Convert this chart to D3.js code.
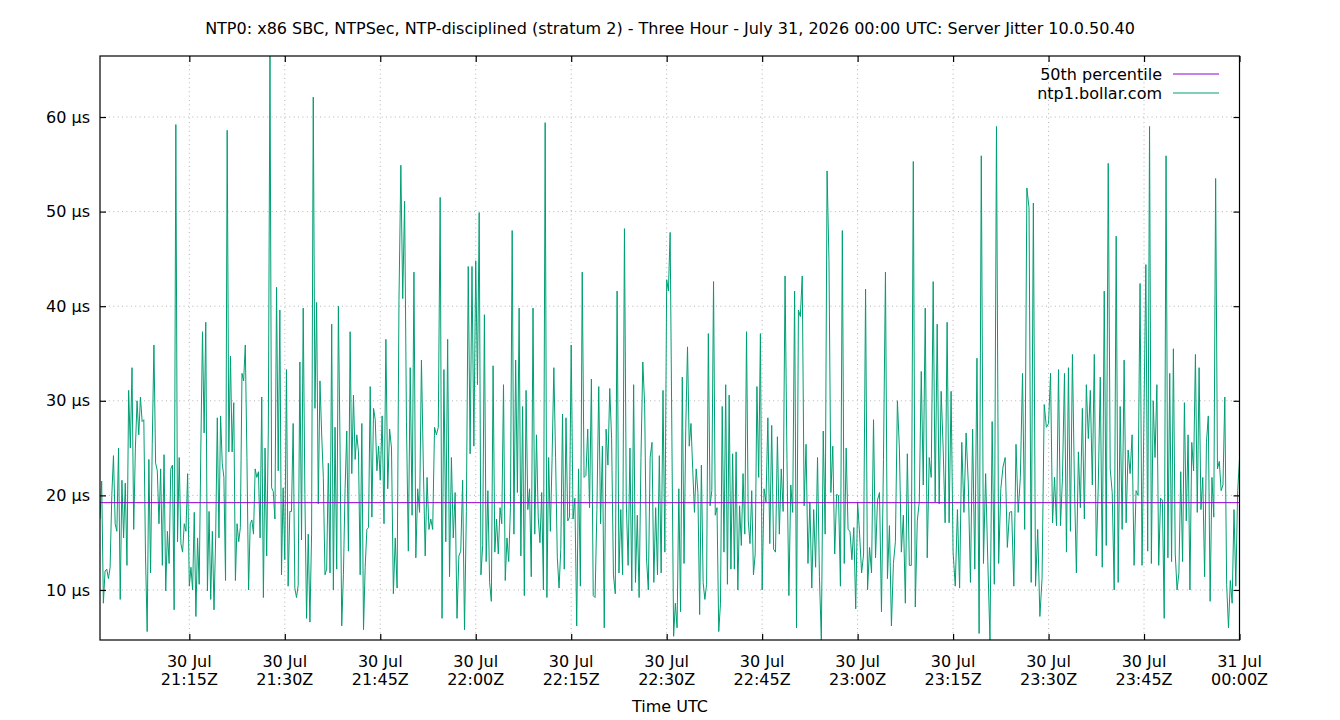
<!DOCTYPE html>
<html>
<head>
<meta charset="utf-8">
<script src="https://cdn.jsdelivr.net/npm/d3@7"></script>
<style>
  body { margin: 0; background: #fff; }
  text { font-family: "DejaVu Sans", sans-serif; fill: #000; }
</style>
</head>
<body>
<svg id="chart" width="1340" height="720"></svg>
<script>
// ---------------- data ----------------
const chartTitle = "NTP0: x86 SBC, NTPSec, NTP-disciplined (stratum 2) - Three Hour - July 31, 2026 00:00 UTC: Server Jitter 10.0.50.40";
const xLabel = "Time UTC";
const seriesNames = ["50th percentile", "ntp1.bollar.com"];

// block boundaries (each block of samples is spread evenly over its quarter hour)
const quarterStarts = [
  "2026-07-30T21:00:58Z", "2026-07-30T21:15:00Z", "2026-07-30T21:30:00Z", "2026-07-30T21:45:00Z",
  "2026-07-30T22:00:00Z", "2026-07-30T22:15:00Z", "2026-07-30T22:30:00Z", "2026-07-30T22:45:00Z",
  "2026-07-30T23:00:00Z", "2026-07-30T23:15:00Z", "2026-07-30T23:30:00Z", "2026-07-30T23:45:00Z",
  "2026-07-31T00:00:00Z"
];

// server jitter, microseconds
const q2100 = [17.5,21.5,8.6,12,12.2,11.2,12.4,20,24.2,17,16.2,25,9,21.6,15.5,21.3,12.6,31.1,25,33.5,16.4,25,30,26.4,30.4,27.8,28,13.6,5.6,23.8,11.8,25.4,35.9,23.4,22.6,17,22.8,12.6,24.3,9.9,16.2,12.8,22.8,23.2,7.9,59.2,15.1,24,14.9,14,17,16.2,22.3];
const q2115 = [10.4,12.4,10,18.2,7.2,15.5,10.6,25,37.3,26.6,38.3,9.9,18.3,9.0,16.2,7.9,15.5,28.2,15.5,28.4,23.4,21.9,11,58.6,24.6,34.7,24.6,29.8,11,17,15.1,16.6,32.9,32.1,35.9,24,10,17,17.4,15.9,22.8,21.9,22.5,15.5,30.4,9.2,25,13.6,27,66.45,20.8,20.4,17.5,42,22.6,39.6,11.6,20.8];
const q2130 = [13.2,33.3,10.4,18.3,18.3,27.6,10.2,9.2,10.5,34.1,15.3,39.8,20.1,7,15.9,6.6,15.9,62.1,29.2,40.4,19.1,32.1,26.6,21.9,11.6,12.2,23.4,11.8,38.1,10,27.2,12.2,40,25,6.2,11.6,20.7,26.8,14.1,37.3,22.3,30.6,23.8,26.4,24.6,11.6,27.6,5.8,12.4,16.4,16.6,31.5,17.7,29.2,28,22.6,25.2];
const q2145 = [21.6,28.4,17,36.5,20.7,27,25,9.6,15.5,10.2,40.6,54.9,40.8,51.1,27.8,14.1,33.5,17.9,43.6,13.4,20.7,18.2,34.3,23.2,13.6,21.9,16.4,17.5,16.4,27.2,26.4,27.2,51.5,7.0,33.3,15.1,36.5,11.4,24,15.5,20.3,7,13.6,14.1,21.6,5.8,18.3,44.2,24.4,44.2,25.2];
const q2200 = [44.8,31.7,49.9,11.6,14.7,39.1,13,20.5,10.8,8.8,33.7,14,17.5,13.8,18.7,17,31.7,11,15.5,13,18.7,48,15.9,34.3,20.3,39.8,13.6,29.4,9.4,31.1,18.5,20.7,11.4,39.8,15.9,26.4,17.7,15,20.3,10,59.4,9.2,24,16.2,24,33.5,24,13.4,10.2,14.3,28.6,12.2,28.2,17.3,17.7];
const q2215 = [35.9,17.5,19.7,6.2,22.8,10.4,43.6,21.9,22.1,27,18.7,32.3,9.4,9.2,18.5,31.5,17,25.2,6.0,27,23.2,31.3,26,11.6,9.6,41.6,11.8,18.5,11.6,48.2,19.3,12.6,25,9.9,31.7,10.8,17.9,9.2,24,34.1,29.6,13.4,10,24,25.6,10.8,18.7,11.6,24.2,11.8,31.1,14];
const q2230 = [42.8,41.6,47.8,26.2,5.1,8.6,6,20.7,7.7,32.5,12.8,27.2,35.7,25.2,27.6,22.8,18.2,22.8,20.3,7.4,23.2,10.8,9,10.6,37.1,18.9,20.5,42.6,17.9,18.7,5.6,8.6,29.4,14,31.7,10.6,30.6,12.2,24.4,12.2,24.6,10,18.9,14.7,22.3,15.9,37.3,17.3,14.9,20.5,11.6,13.8,31.5,21.9,37.1];
const q2245 = [10,20.7,19.3,28.2,14.9,27.4,14.3,14,26.2,15.9,22.8,18.3,43.2,23.8,9.4,21.1,18.2,41.6,6,39.6,38.9,43.2,18.9,25.4,12.8,19.3,10.2,18.5,12.4,24,11.4,4.71,26.8,15.9,54.3,44.8,20.3,25.2,13.8,20.1,20,10.4,48,12.8,25,16.4,16.2,13.2,16.6,8];
const q2300 = [19.3,15.9,11.8,13.8,41.8,10,14.5,11.8,28,13.4,19.5,20.3,7.7,23.8,43.6,11.2,16.8,6.2,12.8,15.1,30,25,14,17.9,8.6,24.4,12.6,12.6,55.3,8.2,17.3,19.3,33.1,21.1,39.8,13.4,24,21.9,42.6,19.3,38.1,19.1,31,25,17.1,38.3,17.1,31];
const q2315 = [14,10.4,18.5,10.2,25.6,18.2,26.6,21.3,10.8,27,12.2,34.5,5.4,55.9,12.8,22.3,13,4.71,27.8,10.6,59,12.8,20.7,23,24,14.5,18.2,18.3,10.4,25.4,18.2,21.9,32.9,16.4,52.5,50.4,10.8,50.9,10.4,16.4,7.2,11.2,29.6,27.2];
const q2330 = [27.6,32.9,17.1,21.9,16.8,33.3,16.8,21.9,32.9,14,33.5,16.2,34.9,21.3,11.8,24.6,18.7,29.2,17.5,31.7,26,31.1,21.1,34.9,13.6,21.1,32.5,12.4,41.6,14.7,55.1,22.8,20.3,10,47.4,10.8,29.4,16.4,34.3,17.1,24.8,22.3,26.4,12.6,20.5,20,42.4,12.6];
const q2345 = [29,44.4,14.1,59,12.8,30,24,31.7,12.6,19.7,19.5,7,55.9,13.4,32.9,13,35.5,13.8,10,11.8,22.5,13,29.8,17.3,26.4,10,25.6,22.6,34.9,18.2,33.5,18.5,21.9,11.4,25.6,28.4,8.8,21.9,17.7,53.5,22.8,23.6,20.5,21.1,30.4,10.6,6,11,8.6,18.5,10.4,20.5,23.8];

const jitterBlocks = [q2100, q2115, q2130, q2145, q2200, q2215, q2230, q2245, q2300, q2315, q2330, q2345];
const medianJitter = 19.23;

const yTickValues = [10, 20, 30, 40, 50, 60];
const xTickTimes = [
  "2026-07-30T21:15:00Z", "2026-07-30T21:30:00Z", "2026-07-30T21:45:00Z", "2026-07-30T22:00:00Z",
  "2026-07-30T22:15:00Z", "2026-07-30T22:30:00Z", "2026-07-30T22:45:00Z", "2026-07-30T23:00:00Z",
  "2026-07-30T23:15:00Z", "2026-07-30T23:30:00Z", "2026-07-30T23:45:00Z", "2026-07-31T00:00:00Z"
];

// ---------------- build series ----------------
const points = [];
jitterBlocks.forEach((block, k) => {
  const t0 = new Date(quarterStarts[k]).getTime();
  const t1 = new Date(quarterStarts[k + 1]).getTime();
  const last = k === jitterBlocks.length - 1;
  const denom = last ? block.length - 1 : block.length;
  block.forEach((v, i) => points.push({ t: new Date(t0 + (t1 - t0) * i / denom), v }));
});

// ---------------- layout ----------------
const plot = { left: 100, right: 1239.5, top: 56, bottom: 640 };
const svg = d3.select("#chart");

const x = d3.scaleUtc()
  .domain(d3.extent(points, d => d.t))
  .range([plot.left, plot.right]);
const y = d3.scaleLinear()
  .domain(d3.extent(points, d => d.v))
  .range([plot.bottom, plot.top]);

svg.append("defs").append("clipPath").attr("id", "clip")
  .append("rect")
  .attr("x", plot.left).attr("y", plot.top)
  .attr("width", plot.right - plot.left).attr("height", plot.bottom - plot.top);

// title
svg.append("text")
  .attr("x", 670).attr("y", 34)
  .attr("text-anchor", "middle")
  .style("font-size", "16px")
  .text(chartTitle);

// grid
const gridColor = "#b4b4b4";
const xt = xTickTimes.map(s => new Date(s));
svg.append("g").selectAll("line").data(xt).join("line")
  .attr("x1", d => x(d)).attr("x2", d => x(d))
  .attr("y1", plot.top).attr("y2", plot.bottom)
  .attr("stroke", gridColor).attr("stroke-width", 1)
  .attr("stroke-dasharray", "1,3.4");
svg.append("g").selectAll("line").data(yTickValues).join("line")
  .attr("x1", plot.left).attr("x2", plot.right)
  .attr("y1", d => y(d)).attr("y2", d => y(d))
  .attr("stroke", gridColor).attr("stroke-width", 1)
  .attr("stroke-dasharray", "1,3.4");

// series
const line = d3.line().x(d => x(d.t)).y(d => y(d.v));
const g = svg.append("g").attr("clip-path", "url(#clip)");
g.append("path")
  .datum(points)
  .attr("d", line)
  .attr("fill", "none")
  .attr("stroke", "#009e73")
  .attr("stroke-width", 1)
  .attr("stroke-linejoin", "miter");
g.append("line")
  .attr("x1", plot.left).attr("x2", plot.right)
  .attr("y1", y(medianJitter)).attr("y2", y(medianJitter))
  .attr("stroke", "#9400d3").attr("stroke-width", 1);

// axes (ticks inward, mirrored)
const fmtDay = d3.utcFormat("%-d %b");
const fmtTime = d3.utcFormat("%H:%MZ");

const xAxisB = d3.axisBottom(x).tickValues(xt).tickSize(-6).tickFormat("");
const xAxisT = d3.axisTop(x).tickValues(xt).tickSize(-6).tickFormat("");
const yAxisL = d3.axisLeft(y).tickValues(yTickValues).tickSize(-6).tickFormat("");
const yAxisR = d3.axisRight(y).tickValues(yTickValues).tickSize(-6).tickFormat("");

function styleAxis(sel) {
  sel.select(".domain").remove();
  sel.selectAll(".tick line").attr("stroke", "#000").attr("stroke-width", 1.2);
}
svg.append("g").attr("transform", `translate(0,${plot.bottom})`).call(xAxisB).call(styleAxis);
svg.append("g").attr("transform", `translate(0,${plot.top})`).call(xAxisT).call(styleAxis);
svg.append("g").attr("transform", `translate(${plot.left},0)`).call(yAxisL).call(styleAxis);
svg.append("g").attr("transform", `translate(${plot.right},0)`).call(yAxisR).call(styleAxis);

// x tick labels (two lines)
const xl = svg.append("g").selectAll("text").data(xt).join("text")
  .attr("text-anchor", "middle")
  .style("font-size", "16px");
xl.append("tspan").attr("x", d => x(d)).attr("y", 667).text(d => fmtDay(d));
xl.append("tspan").attr("x", d => x(d)).attr("y", 685).text(d => fmtTime(d));

// y tick labels
svg.append("g").selectAll("text").data(yTickValues).join("text")
  .attr("x", 90).attr("y", d => y(d))
  .attr("dy", "0.35em")
  .attr("text-anchor", "end")
  .style("font-size", "16px")
  .text(d => `${d} µs`);

// frame
svg.append("rect")
  .attr("x", plot.left).attr("y", plot.top)
  .attr("width", plot.right - plot.left).attr("height", plot.bottom - plot.top)
  .attr("fill", "none").attr("stroke", "#000").attr("stroke-width", 1.2);

// x axis title
svg.append("text")
  .attr("x", 670).attr("y", 712)
  .attr("text-anchor", "middle")
  .style("font-size", "16px")
  .text(xLabel);

// legend
const legendColors = ["#9400d3", "#009e73"];
const lg = svg.append("g");
seriesNames.forEach((name, i) => {
  const ly = 74 + i * 19;
  lg.append("text")
    .attr("x", 1162).attr("y", ly).attr("dy", "0.35em")
    .attr("text-anchor", "end")
    .style("font-size", "16px")
    .text(name);
  lg.append("line")
    .attr("x1", 1173).attr("x2", 1219)
    .attr("y1", ly).attr("y2", ly)
    .attr("stroke", legendColors[i]).attr("stroke-width", 1);
});
</script>
</body>
</html>
